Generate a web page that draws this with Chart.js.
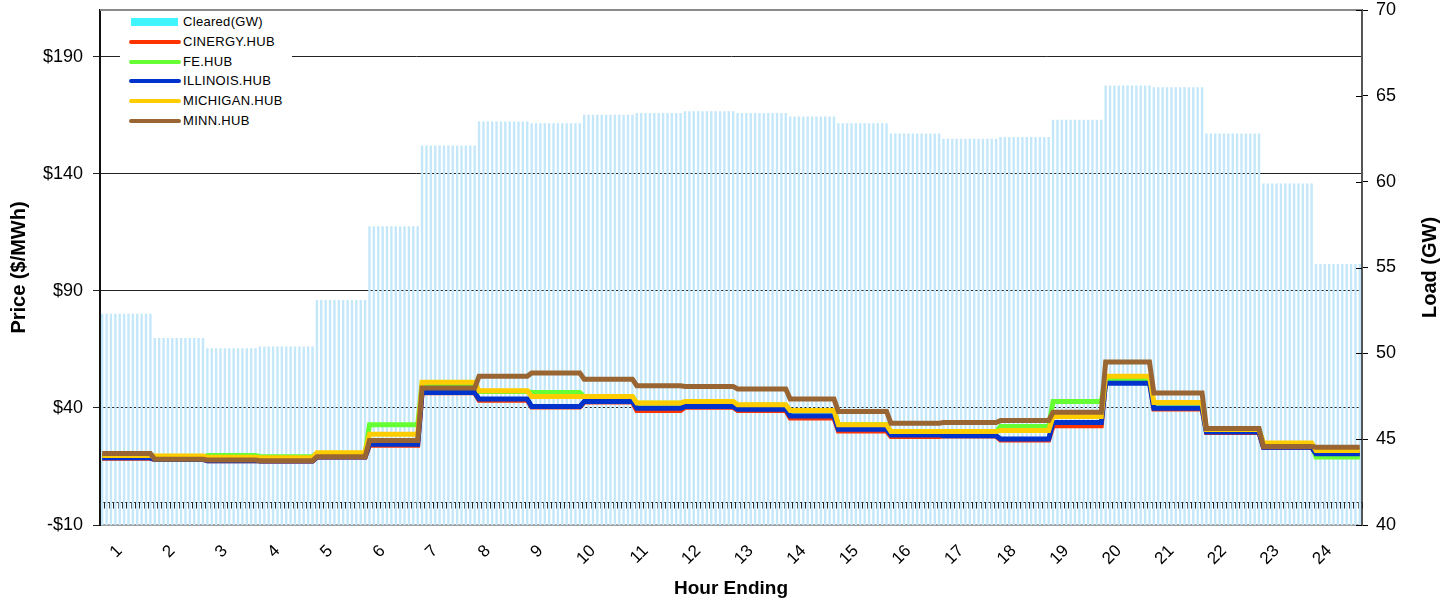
<!DOCTYPE html>
<html><head><meta charset="utf-8">
<script src="https://cdn.jsdelivr.net/npm/chart.js@4.4.1/dist/chart.umd.min.js"></script>
<style>
html,body{margin:0;padding:0;background:#fff;}
#wrap{position:relative;width:1452px;height:602px;}
#legend{position:absolute;left:120px;top:12px;width:172px;background:#fff;font:13px 'Liberation Sans',Arial,sans-serif;color:#000;}
.row{height:19.8px;position:relative;}
.sw{position:absolute;left:9px;top:8px;width:52px;height:4px;border-radius:2px;}
.sw.bar{left:11px;top:6px;width:47px;height:8px;border-radius:0;}
.lab{position:absolute;left:63px;top:2px;line-height:16px;white-space:nowrap;letter-spacing:0.3px;}
</style></head><body>
<div id="wrap"><canvas id="c" width="1452" height="602"></canvas><div id="legend"></div></div>
<script>
const hours = ['1','2','3','4','5','6','7','8','9','10','11','12','13','14','15','16','17','18','19','20','21','22','23','24'];
// number of 5-minute intervals drawn for each hour ending
const intervalsPerHour = [12,12,12,13,12,12,13,12,12,12,11,12,12,11,12,12,13,12,12,11,12,13,12,11];
const clearedGW = [52.3,50.9,50.3,50.4,53.1,57.4,62.1,63.5,63.4,63.9,64.0,64.1,64.0,63.8,63.4,62.8,62.5,62.6,63.6,65.6,65.5,62.8,59.9,55.2];
const cinergyHub = [18.5,18.0,17.5,17.3,19.0,24.1,46.5,43.3,40.4,42.5,38.9,40.3,38.9,35.7,30.2,27.8,28.0,26.3,32.4,51.8,39.6,29.5,23.2,20.2];
const feHub = [19.5,18.5,19.7,19.2,20.5,32.8,50.5,47.0,46.6,44.9,42.0,42.6,41.2,38.7,32.8,29.8,29.8,32.1,42.8,52.5,42.0,30.5,24.8,19.0];
const illinoisHub = [18.7,18.0,17.5,17.3,19.0,24.5,46.6,43.8,40.6,42.8,39.9,40.6,39.5,36.6,30.9,28.5,28.1,26.7,33.8,50.6,39.9,29.7,23.2,20.4];
const michiganHub = [19.7,19.5,18.9,18.7,20.9,28.8,51.0,47.3,44.9,44.9,42.1,42.8,41.4,38.9,32.8,29.9,29.9,30.4,36.3,53.5,42.3,30.8,25.0,21.8];
const minnHub = [20.5,18.1,17.8,17.5,19.2,26.1,48.5,53.5,54.9,52.3,49.5,49.2,48.1,43.8,38.5,33.5,33.8,34.6,38.2,59.6,46.4,31.2,23.5,23.2];
const priceTicks = [-10,40,90,140,190];
const loadTicks = [40,45,50,55,60,65,70];

const FONT = "'Liberation Sans', Arial, sans-serif";
const hourOfInterval = [];
intervalsPerHour.forEach((n,h)=>{ for(let k=0;k<n;k++) hourOfInterval.push(h); });
const xLabels = hourOfInterval.map((h,i)=>String(i));
const expand = arr => hourOfInterval.map(h => arr[h]);

const series = [
  {label:'CINERGY.HUB', data:cinergyHub, color:'#ff3300', order:5},
  {label:'FE.HUB', data:feHub, color:'#66ff33', order:4},
  {label:'ILLINOIS.HUB', data:illinoisHub, color:'#0033cc', order:3},
  {label:'MICHIGAN.HUB', data:michiganHub, color:'#ffcc00', order:2},
  {label:'MINN.HUB', data:minnHub, color:'#996633', order:1}
];
const barColor = '#c4e8fa';
const legendBarColor = '#3ff5ff';

const datasets = [{
  type:'bar', label:'Cleared(GW)', data:expand(clearedGW), yAxisID:'yR',
  backgroundColor:barColor, borderWidth:0, barPercentage:0.55, categoryPercentage:1, order:10
}].concat(series.map(s=>({
  type:'line', label:s.label, data:expand(s.data), yAxisID:'yL',
  borderColor:s.color, backgroundColor:s.color, borderWidth:5, pointRadius:0,
  tension:0, fill:false, order:s.order, borderJoinStyle:'miter', borderCapStyle:'butt'
})));

// legend (HTML)
const lg = document.getElementById('legend');
const addRow = (label,color,isBar)=>{
  const r=document.createElement('div'); r.className='row';
  const sw=document.createElement('span'); sw.className='sw'+(isBar?' bar':''); sw.style.background=color;
  const t=document.createElement('span'); t.className='lab'; t.textContent=label;
  r.appendChild(sw); r.appendChild(t); lg.appendChild(r);
};
addRow('Cleared(GW)', legendBarColor, true);
series.forEach(s=>addRow(s.label,s.color,false));

const decor = {
  id:'decor',
  beforeDatasetsDraw(chart){
    const {ctx, chartArea:a, scales} = chart;
    const x = scales.x, yL = scales.yL;
    const y0 = Math.round(yL.getPixelForValue(0))+0.5;
    const n = xLabels.length;
    const half = (x.getPixelForValue(1)-x.getPixelForValue(0))/2;
    ctx.save();
    ctx.strokeStyle='#222'; ctx.lineWidth=1;
    ctx.beginPath(); ctx.moveTo(a.left,y0); ctx.lineTo(a.right,y0); ctx.stroke();
    ctx.beginPath();
    for(let i=0;i<=n;i++){
      const px=Math.round(x.getPixelForValue(Math.min(i,n-1)) + (i<n?-half:half))+0.5;
      ctx.moveTo(px,y0); ctx.lineTo(px,y0+6);
    }
    ctx.stroke();
    ctx.strokeStyle='#8a8a8a'; ctx.lineWidth=2;
    ctx.beginPath(); ctx.moveTo(a.left,a.top); ctx.lineTo(a.right,a.top); ctx.stroke();
    ctx.restore();
  },
  afterDraw(chart){
    const {ctx, chartArea:a, scales} = chart;
    const yR = scales.yR;
    ctx.save();
    ctx.strokeStyle='#000'; ctx.lineWidth=1;
    ctx.beginPath();
    loadTicks.forEach(v=>{ const py=Math.round(yR.getPixelForValue(v))+0.5; ctx.moveTo(a.right-6,py); ctx.lineTo(a.right,py); });
    ctx.stroke();
    ctx.translate(1430,(a.top+a.bottom)/2);
    ctx.rotate(-Math.PI/2);
    ctx.font = "bold 20px " + FONT;
    ctx.fillStyle='#000'; ctx.textAlign='center'; ctx.textBaseline='middle';
    ctx.fillText('Load (GW)',0,0);
    ctx.restore();
  }
};

new Chart(document.getElementById('c'), {
  data:{labels:xLabels, datasets},
  options:{
    responsive:false, animation:false, devicePixelRatio:1,
    layout:{padding:{top:10,left:0,right:0,bottom:0}},
    plugins:{legend:{display:false}, tooltip:{enabled:false}},
    scales:{
      x:{
        type:'category', offset:true,
        grid:{display:false},
        border:{display:true,color:'#a0a0a0',width:2},
        ticks:{autoSkip:false, maxRotation:45, minRotation:45, padding:8, color:'#000',
          font:{size:17, family:FONT},
          callback:(v,i)=> (i%12===4) ? hours[(i-4)/12] : ''},
        title:{display:true, text:'Hour Ending', color:'#000', font:{size:19, weight:'bold', family:FONT}, padding:{top:0,bottom:2}},
        afterFit:s=>{ s.height=77; s.paddingLeft=0; s.paddingRight=0; }
      },
      yL:{
        position:'left', min:-10, max:210,
        afterBuildTicks:s=>{ s.ticks = priceTicks.map(v=>({value:v})); },
        ticks:{color:'#000', padding:10, font:{size:18, family:FONT},
          callback:v=> (v<0?'-$':'$')+Math.abs(v)},
        grid:{color:c=> (c.tick && c.tick.value===-10)?'#a0a0a0':'#222', tickColor:'#222', lineWidth:1, tickLength:7},
        border:{color:'#111', width:2},
        title:{display:true, text:'Price ($/MWh)', color:'#000', font:{size:20, weight:'bold', family:FONT}, padding:{top:7,bottom:0}},
        afterFit:s=>{ s.width=100; s.paddingTop=0; s.paddingBottom=0; }
      },
      yR:{
        position:'right', min:40, max:70,
        afterBuildTicks:s=>{ s.ticks = loadTicks.map(v=>({value:v})); },
        ticks:{color:'#000', padding:8, font:{size:18, family:FONT}},
        grid:{drawOnChartArea:false, color:'#000', tickLength:6},
        border:{color:'#555', width:2},
        afterFit:s=>{ s.width=90; s.paddingTop=0; s.paddingBottom=0; }
      }
    }
  },
  plugins:[decor]
});
</script>
</body></html>
